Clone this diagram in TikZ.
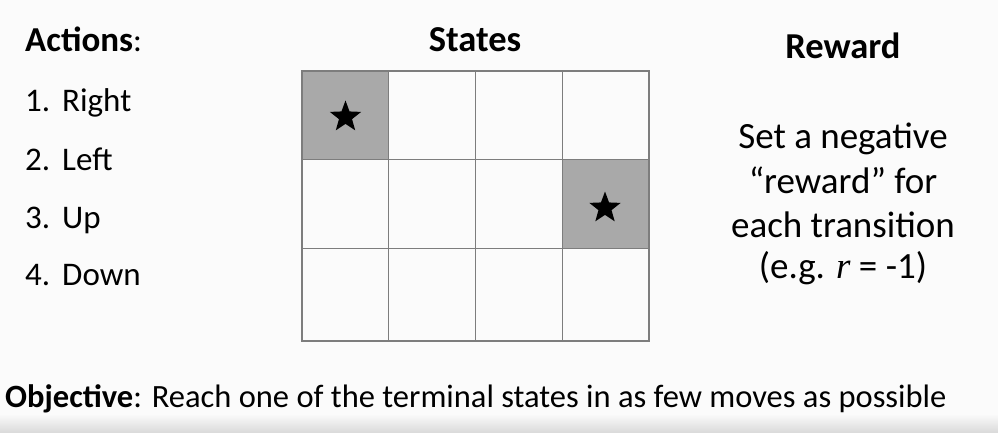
\documentclass[tikz,border=0pt]{standalone}
\usepackage{fontspec}
\setmainfont{Carlito}
\newfontfamily\mathlike{Liberation Serif}
\usetikzlibrary{shapes.geometric}
\definecolor{cellgray}{RGB}{169,169,169}
\definecolor{linegray}{RGB}{125,125,125}
\definecolor{paper}{RGB}{251,251,251}
\begin{document}
\begin{tikzpicture}[x = 1pt, y = -1pt,
    txt/.style = {inner sep = 0pt, anchor = base west, font = \fontsize{33}{40}\selectfont},
    head/.style = {inner sep = 0pt, anchor = base, font = \fontsize{36.5}{44}\selectfont\bfseries},
    rew/.style = {inner sep = 0pt, anchor = base, font = \fontsize{37}{44}\selectfont},
    terminal/.style = {star, star points = 5, star point ratio = 2.4, fill = black, inner sep = 0pt, minimum size = 33pt}]
    \useasboundingbox (0,0) rectangle (998,433);
    \fill[paper] (0,0) rectangle (998,433);
    \shade[top color = paper, bottom color = black!15] (0,414) rectangle (998,433);

    \node[txt] (actions) at (25,52) {\textbf{\fontsize{35}{42}\selectfont Actions}:};
    \node[txt] (right) at (25,112) {1.\hspace{12pt}Right};
    \node[txt] (left) at (25,170) {2.\hspace{12pt}Left};
    \node[txt] (up) at (25,228) {3.\hspace{12pt}Up};
    \node[txt] (down) at (25,285) {4.\hspace{12pt}Down};

    \node[head] (states) at (475,52) {States};
    \fill[cellgray] (302,71) rectangle (388.7,159.5);
    \fill[cellgray] (562.3,159.5) rectangle (649,248.7);
    \draw[linegray, line width = 1.2pt] (302,71) rectangle (649,341);
    \draw[linegray, line width = 1.2pt] (388.7,71) -- (388.7,341);
    \draw[linegray, line width = 1.2pt] (475.5,71) -- (475.5,341);
    \draw[linegray, line width = 1.2pt] (562.3,71) -- (562.3,341);
    \draw[linegray, line width = 1.2pt] (302,159.5) -- (649,159.5);
    \draw[linegray, line width = 1.2pt] (302,248.7) -- (649,248.7);
    \node[terminal] (start) at (345.5,117) {};
    \node[terminal] (goal) at (605,208) {};

    \node[head] (reward) at (843,59) {Reward};
    \node[rew] (rew1) at (843,149) {Set a negative};
    \node[rew] (rew2) at (843,193) {“reward” for};
    \node[rew] (rew3) at (843,237) {each transition};
    \node[rew] (rew4) at (843,278) {(e.g. {\mathlike\itshape r} = -1)};

    \node[txt, font = \fontsize{32.5}{39}\selectfont] (objective) at (5,407) {\textbf{Objective}: Reach one of the terminal states in as few moves as possible};
\end{tikzpicture}
\end{document}
